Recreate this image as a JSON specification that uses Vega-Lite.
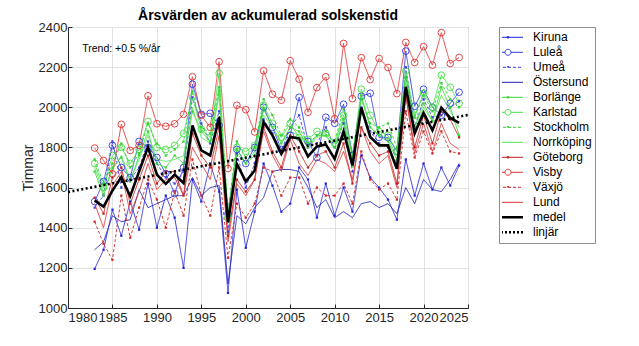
{
  "$schema": "https://vega.github.io/schema/vega-lite/v6.json",
  "width": 400,
  "height": 281,
  "padding": {"left": 21, "top": 9, "right": 5, "bottom": 5},
  "title": {"text": "Årsvärden av ackumulerad solskenstid", "font": "Liberation Sans", "fontSize": 14, "fontWeight": "bold", "color": "#000000", "anchor": "middle", "offset": -2},
  "config": {
    "view": {"stroke": "#262626", "strokeWidth": 1},
    "axis": {"labelFont": "Liberation Sans", "labelFontSize": 13, "labelColor": "#262626", "titleFont": "Liberation Sans", "titleFontSize": 14, "titleFontWeight": "normal", "titleColor": "#262626", "domainColor": "#262626", "tickColor": "#262626", "gridColor": "#e3e3e3", "tickSize": -4},
    "axisX": {"labelPadding": 7},
    "axisY": {"labelPadding": 5}
  },
  "data": {"values": [
{"station":"Kiruna","year":1983,"hours":1195},{"station":"Kiruna","year":1984,"hours":1290},{"station":"Kiruna","year":1985,"hours":1490},{"station":"Kiruna","year":1986,"hours":1360},{"station":"Kiruna","year":1987,"hours":1530},{"station":"Kiruna","year":1988,"hours":1390},{"station":"Kiruna","year":1989,"hours":1620},{"station":"Kiruna","year":1990,"hours":1400},{"station":"Kiruna","year":1991,"hours":1560},{"station":"Kiruna","year":1992,"hours":1450},{"station":"Kiruna","year":1993,"hours":1200},{"station":"Kiruna","year":1994,"hours":1640},{"station":"Kiruna","year":1995,"hours":1530},{"station":"Kiruna","year":1996,"hours":1720},{"station":"Kiruna","year":1997,"hours":1580},{"station":"Kiruna","year":1998,"hours":1075},{"station":"Kiruna","year":1999,"hours":1590},{"station":"Kiruna","year":2000,"hours":1300},{"station":"Kiruna","year":2001,"hours":1480},{"station":"Kiruna","year":2002,"hours":1720},{"station":"Kiruna","year":2003,"hours":1610},{"station":"Kiruna","year":2004,"hours":1480},{"station":"Kiruna","year":2005,"hours":1520},{"station":"Kiruna","year":2006,"hours":1700},{"station":"Kiruna","year":2007,"hours":1640},{"station":"Kiruna","year":2008,"hours":1450},{"station":"Kiruna","year":2009,"hours":1620},{"station":"Kiruna","year":2010,"hours":1460},{"station":"Kiruna","year":2011,"hours":1600},{"station":"Kiruna","year":2012,"hours":1480},{"station":"Kiruna","year":2013,"hours":1760},{"station":"Kiruna","year":2014,"hours":1650},{"station":"Kiruna","year":2015,"hours":1600},{"station":"Kiruna","year":2016,"hours":1540},{"station":"Kiruna","year":2017,"hours":1440},{"station":"Kiruna","year":2018,"hours":1740},{"station":"Kiruna","year":2019,"hours":1560},{"station":"Kiruna","year":2020,"hours":1720},{"station":"Kiruna","year":2021,"hours":1590},{"station":"Kiruna","year":2022,"hours":1700},{"station":"Kiruna","year":2023,"hours":1610},{"station":"Kiruna","year":2024,"hours":1710},
{"station":"Luleå","year":1983,"hours":1530},{"station":"Luleå","year":1984,"hours":1630},{"station":"Luleå","year":1985,"hours":1810},{"station":"Luleå","year":1986,"hours":1700},{"station":"Luleå","year":1987,"hours":1650},{"station":"Luleå","year":1988,"hours":1830},{"station":"Luleå","year":1989,"hours":1800},{"station":"Luleå","year":1990,"hours":1750},{"station":"Luleå","year":1991,"hours":1670},{"station":"Luleå","year":1992,"hours":1570},{"station":"Luleå","year":1993,"hours":1700},{"station":"Luleå","year":1994,"hours":2115},{"station":"Luleå","year":1995,"hours":1965},{"station":"Luleå","year":1996,"hours":1970},{"station":"Luleå","year":1997,"hours":1910},{"station":"Luleå","year":1998,"hours":1470},{"station":"Luleå","year":1999,"hours":1790},{"station":"Luleå","year":2000,"hours":1720},{"station":"Luleå","year":2001,"hours":1800},{"station":"Luleå","year":2002,"hours":2000},{"station":"Luleå","year":2003,"hours":1900},{"station":"Luleå","year":2004,"hours":1790},{"station":"Luleå","year":2005,"hours":1860},{"station":"Luleå","year":2006,"hours":2050},{"station":"Luleå","year":2007,"hours":1830},{"station":"Luleå","year":2008,"hours":1750},{"station":"Luleå","year":2009,"hours":1950},{"station":"Luleå","year":2010,"hours":1920},{"station":"Luleå","year":2011,"hours":2015},{"station":"Luleå","year":2012,"hours":1760},{"station":"Luleå","year":2013,"hours":2055},{"station":"Luleå","year":2014,"hours":2070},{"station":"Luleå","year":2015,"hours":1850},{"station":"Luleå","year":2016,"hours":1850},{"station":"Luleå","year":2017,"hours":1780},{"station":"Luleå","year":2018,"hours":2280},{"station":"Luleå","year":2019,"hours":2005},{"station":"Luleå","year":2020,"hours":2090},{"station":"Luleå","year":2021,"hours":2000},{"station":"Luleå","year":2022,"hours":1960},{"station":"Luleå","year":2023,"hours":2020},{"station":"Luleå","year":2024,"hours":2075},
{"station":"Umeå","year":1983,"hours":1500},{"station":"Umeå","year":1984,"hours":1560},{"station":"Umeå","year":1985,"hours":1830},{"station":"Umeå","year":1986,"hours":1600},{"station":"Umeå","year":1987,"hours":1640},{"station":"Umeå","year":1988,"hours":1700},{"station":"Umeå","year":1989,"hours":1830},{"station":"Umeå","year":1990,"hours":1720},{"station":"Umeå","year":1991,"hours":1650},{"station":"Umeå","year":1992,"hours":1620},{"station":"Umeå","year":1993,"hours":1680},{"station":"Umeå","year":1994,"hours":2050},{"station":"Umeå","year":1995,"hours":1920},{"station":"Umeå","year":1996,"hours":1820},{"station":"Umeå","year":1997,"hours":1980},{"station":"Umeå","year":1998,"hours":1380},{"station":"Umeå","year":1999,"hours":1770},{"station":"Umeå","year":2000,"hours":1600},{"station":"Umeå","year":2001,"hours":1720},{"station":"Umeå","year":2002,"hours":1940},{"station":"Umeå","year":2003,"hours":1870},{"station":"Umeå","year":2004,"hours":1780},{"station":"Umeå","year":2005,"hours":1900},{"station":"Umeå","year":2006,"hours":1960},{"station":"Umeå","year":2007,"hours":1800},{"station":"Umeå","year":2008,"hours":1820},{"station":"Umeå","year":2009,"hours":1900},{"station":"Umeå","year":2010,"hours":1800},{"station":"Umeå","year":2011,"hours":1920},{"station":"Umeå","year":2012,"hours":1680},{"station":"Umeå","year":2013,"hours":2000},{"station":"Umeå","year":2014,"hours":1880},{"station":"Umeå","year":2015,"hours":1820},{"station":"Umeå","year":2016,"hours":1800},{"station":"Umeå","year":2017,"hours":1720},{"station":"Umeå","year":2018,"hours":2200},{"station":"Umeå","year":2019,"hours":1900},{"station":"Umeå","year":2020,"hours":2040},{"station":"Umeå","year":2021,"hours":1950},{"station":"Umeå","year":2022,"hours":1960},{"station":"Umeå","year":2023,"hours":2000},{"station":"Umeå","year":2024,"hours":2030},
{"station":"Östersund","year":1983,"hours":1290},{"station":"Östersund","year":1984,"hours":1330},{"station":"Östersund","year":1985,"hours":1460},{"station":"Östersund","year":1986,"hours":1430},{"station":"Östersund","year":1987,"hours":1440},{"station":"Östersund","year":1988,"hours":1590},{"station":"Östersund","year":1989,"hours":1500},{"station":"Östersund","year":1990,"hours":1520},{"station":"Östersund","year":1991,"hours":1540},{"station":"Östersund","year":1992,"hours":1560},{"station":"Östersund","year":1993,"hours":1560},{"station":"Östersund","year":1994,"hours":1650},{"station":"Östersund","year":1995,"hours":1560},{"station":"Östersund","year":1996,"hours":1600},{"station":"Östersund","year":1997,"hours":1610},{"station":"Östersund","year":1998,"hours":1120},{"station":"Östersund","year":1999,"hours":1460},{"station":"Östersund","year":2000,"hours":1420},{"station":"Östersund","year":2001,"hours":1500},{"station":"Östersund","year":2002,"hours":1550},{"station":"Östersund","year":2003,"hours":1680},{"station":"Östersund","year":2004,"hours":1690},{"station":"Östersund","year":2005,"hours":1690},{"station":"Östersund","year":2006,"hours":1680},{"station":"Östersund","year":2007,"hours":1600},{"station":"Östersund","year":2008,"hours":1500},{"station":"Östersund","year":2009,"hours":1540},{"station":"Östersund","year":2010,"hours":1450},{"station":"Östersund","year":2011,"hours":1480},{"station":"Östersund","year":2012,"hours":1450},{"station":"Östersund","year":2013,"hours":1520},{"station":"Östersund","year":2014,"hours":1530},{"station":"Östersund","year":2015,"hours":1500},{"station":"Östersund","year":2016,"hours":1520},{"station":"Östersund","year":2017,"hours":1470},{"station":"Östersund","year":2018,"hours":1600},{"station":"Östersund","year":2019,"hours":1520},{"station":"Östersund","year":2020,"hours":1640},{"station":"Östersund","year":2021,"hours":1590},{"station":"Östersund","year":2022,"hours":1580},{"station":"Östersund","year":2023,"hours":1640},{"station":"Östersund","year":2024,"hours":1720},
{"station":"Borlänge","year":1983,"hours":1680},{"station":"Borlänge","year":1984,"hours":1560},{"station":"Borlänge","year":1985,"hours":1700},{"station":"Borlänge","year":1986,"hours":1750},{"station":"Borlänge","year":1987,"hours":1630},{"station":"Borlänge","year":1988,"hours":1760},{"station":"Borlänge","year":1989,"hours":1880},{"station":"Borlänge","year":1990,"hours":1720},{"station":"Borlänge","year":1991,"hours":1700},{"station":"Borlänge","year":1992,"hours":1760},{"station":"Borlänge","year":1993,"hours":1720},{"station":"Borlänge","year":1994,"hours":1980},{"station":"Borlänge","year":1995,"hours":1880},{"station":"Borlänge","year":1996,"hours":1830},{"station":"Borlänge","year":1997,"hours":2080},{"station":"Borlänge","year":1998,"hours":1430},{"station":"Borlänge","year":1999,"hours":1790},{"station":"Borlänge","year":2000,"hours":1720},{"station":"Borlänge","year":2001,"hours":1760},{"station":"Borlänge","year":2002,"hours":1990},{"station":"Borlänge","year":2003,"hours":1900},{"station":"Borlänge","year":2004,"hours":1820},{"station":"Borlänge","year":2005,"hours":1900},{"station":"Borlänge","year":2006,"hours":1880},{"station":"Borlänge","year":2007,"hours":1800},{"station":"Borlänge","year":2008,"hours":1860},{"station":"Borlänge","year":2009,"hours":1860},{"station":"Borlänge","year":2010,"hours":1800},{"station":"Borlänge","year":2011,"hours":1940},{"station":"Borlänge","year":2012,"hours":1720},{"station":"Borlänge","year":2013,"hours":2060},{"station":"Borlänge","year":2014,"hours":1900},{"station":"Borlänge","year":2015,"hours":1860},{"station":"Borlänge","year":2016,"hours":1830},{"station":"Borlänge","year":2017,"hours":1740},{"station":"Borlänge","year":2018,"hours":2150},{"station":"Borlänge","year":2019,"hours":1900},{"station":"Borlänge","year":2020,"hours":2020},{"station":"Borlänge","year":2021,"hours":1930},{"station":"Borlänge","year":2022,"hours":2100},{"station":"Borlänge","year":2023,"hours":2000},{"station":"Borlänge","year":2024,"hours":1860},
{"station":"Karlstad","year":1983,"hours":1720},{"station":"Karlstad","year":1984,"hours":1600},{"station":"Karlstad","year":1985,"hours":1760},{"station":"Karlstad","year":1986,"hours":1800},{"station":"Karlstad","year":1987,"hours":1720},{"station":"Karlstad","year":1988,"hours":1790},{"station":"Karlstad","year":1989,"hours":1930},{"station":"Karlstad","year":1990,"hours":1800},{"station":"Karlstad","year":1991,"hours":1790},{"station":"Karlstad","year":1992,"hours":1810},{"station":"Karlstad","year":1993,"hours":1870},{"station":"Karlstad","year":1994,"hours":2050},{"station":"Karlstad","year":1995,"hours":1890},{"station":"Karlstad","year":1996,"hours":1850},{"station":"Karlstad","year":1997,"hours":2170},{"station":"Karlstad","year":1998,"hours":1450},{"station":"Karlstad","year":1999,"hours":1800},{"station":"Karlstad","year":2000,"hours":1780},{"station":"Karlstad","year":2001,"hours":1810},{"station":"Karlstad","year":2002,"hours":2010},{"station":"Karlstad","year":2003,"hours":1920},{"station":"Karlstad","year":2004,"hours":1850},{"station":"Karlstad","year":2005,"hours":1920},{"station":"Karlstad","year":2006,"hours":1850},{"station":"Karlstad","year":2007,"hours":1840},{"station":"Karlstad","year":2008,"hours":1880},{"station":"Karlstad","year":2009,"hours":1870},{"station":"Karlstad","year":2010,"hours":1820},{"station":"Karlstad","year":2011,"hours":1960},{"station":"Karlstad","year":2012,"hours":1750},{"station":"Karlstad","year":2013,"hours":2090},{"station":"Karlstad","year":2014,"hours":1960},{"station":"Karlstad","year":2015,"hours":1880},{"station":"Karlstad","year":2016,"hours":1860},{"station":"Karlstad","year":2017,"hours":1780},{"station":"Karlstad","year":2018,"hours":2180},{"station":"Karlstad","year":2019,"hours":1960},{"station":"Karlstad","year":2020,"hours":2070},{"station":"Karlstad","year":2021,"hours":2000},{"station":"Karlstad","year":2022,"hours":2160},{"station":"Karlstad","year":2023,"hours":2100},{"station":"Karlstad","year":2024,"hours":2020},
{"station":"Stockholm","year":1983,"hours":1740},{"station":"Stockholm","year":1984,"hours":1620},{"station":"Stockholm","year":1985,"hours":1720},{"station":"Stockholm","year":1986,"hours":1820},{"station":"Stockholm","year":1987,"hours":1700},{"station":"Stockholm","year":1988,"hours":1770},{"station":"Stockholm","year":1989,"hours":1920},{"station":"Stockholm","year":1990,"hours":1820},{"station":"Stockholm","year":1991,"hours":1760},{"station":"Stockholm","year":1992,"hours":1790},{"station":"Stockholm","year":1993,"hours":1830},{"station":"Stockholm","year":1994,"hours":2080},{"station":"Stockholm","year":1995,"hours":1900},{"station":"Stockholm","year":1996,"hours":1870},{"station":"Stockholm","year":1997,"hours":2100},{"station":"Stockholm","year":1998,"hours":1480},{"station":"Stockholm","year":1999,"hours":1830},{"station":"Stockholm","year":2000,"hours":1750},{"station":"Stockholm","year":2001,"hours":1800},{"station":"Stockholm","year":2002,"hours":2040},{"station":"Stockholm","year":2003,"hours":1960},{"station":"Stockholm","year":2004,"hours":1860},{"station":"Stockholm","year":2005,"hours":1940},{"station":"Stockholm","year":2006,"hours":1900},{"station":"Stockholm","year":2007,"hours":1820},{"station":"Stockholm","year":2008,"hours":1860},{"station":"Stockholm","year":2009,"hours":1880},{"station":"Stockholm","year":2010,"hours":1830},{"station":"Stockholm","year":2011,"hours":1990},{"station":"Stockholm","year":2012,"hours":1760},{"station":"Stockholm","year":2013,"hours":2040},{"station":"Stockholm","year":2014,"hours":1920},{"station":"Stockholm","year":2015,"hours":1900},{"station":"Stockholm","year":2016,"hours":1920},{"station":"Stockholm","year":2017,"hours":1800},{"station":"Stockholm","year":2018,"hours":2150},{"station":"Stockholm","year":2019,"hours":1950},{"station":"Stockholm","year":2020,"hours":2060},{"station":"Stockholm","year":2021,"hours":1980},{"station":"Stockholm","year":2022,"hours":2120},{"station":"Stockholm","year":2023,"hours":2040},{"station":"Stockholm","year":2024,"hours":2000},
{"station":"Norrköping","year":1983,"hours":1700},{"station":"Norrköping","year":1984,"hours":1580},{"station":"Norrköping","year":1985,"hours":1690},{"station":"Norrköping","year":1986,"hours":1760},{"station":"Norrköping","year":1987,"hours":1640},{"station":"Norrköping","year":1988,"hours":1740},{"station":"Norrköping","year":1989,"hours":1860},{"station":"Norrköping","year":1990,"hours":1740},{"station":"Norrköping","year":1991,"hours":1730},{"station":"Norrköping","year":1992,"hours":1740},{"station":"Norrköping","year":1993,"hours":1760},{"station":"Norrköping","year":1994,"hours":2000},{"station":"Norrköping","year":1995,"hours":1850},{"station":"Norrköping","year":1996,"hours":1820},{"station":"Norrköping","year":1997,"hours":2060},{"station":"Norrköping","year":1998,"hours":1460},{"station":"Norrköping","year":1999,"hours":1770},{"station":"Norrköping","year":2000,"hours":1720},{"station":"Norrköping","year":2001,"hours":1780},{"station":"Norrköping","year":2002,"hours":1960},{"station":"Norrköping","year":2003,"hours":1900},{"station":"Norrköping","year":2004,"hours":1830},{"station":"Norrköping","year":2005,"hours":1880},{"station":"Norrköping","year":2006,"hours":1860},{"station":"Norrköping","year":2007,"hours":1800},{"station":"Norrköping","year":2008,"hours":1850},{"station":"Norrköping","year":2009,"hours":1860},{"station":"Norrköping","year":2010,"hours":1800},{"station":"Norrköping","year":2011,"hours":1930},{"station":"Norrköping","year":2012,"hours":1700},{"station":"Norrköping","year":2013,"hours":2050},{"station":"Norrköping","year":2014,"hours":1900},{"station":"Norrköping","year":2015,"hours":1860},{"station":"Norrköping","year":2016,"hours":1840},{"station":"Norrköping","year":2017,"hours":1760},{"station":"Norrköping","year":2018,"hours":2120},{"station":"Norrköping","year":2019,"hours":1880},{"station":"Norrköping","year":2020,"hours":2000},{"station":"Norrköping","year":2021,"hours":1930},{"station":"Norrköping","year":2022,"hours":2060},{"station":"Norrköping","year":2023,"hours":1980},{"station":"Norrköping","year":2024,"hours":1900},
{"station":"Göteborg","year":1983,"hours":1550},{"station":"Göteborg","year":1984,"hours":1470},{"station":"Göteborg","year":1985,"hours":1650},{"station":"Göteborg","year":1986,"hours":1700},{"station":"Göteborg","year":1987,"hours":1520},{"station":"Göteborg","year":1988,"hours":1640},{"station":"Göteborg","year":1989,"hours":1760},{"station":"Göteborg","year":1990,"hours":1620},{"station":"Göteborg","year":1991,"hours":1680},{"station":"Göteborg","year":1992,"hours":1680},{"station":"Göteborg","year":1993,"hours":1560},{"station":"Göteborg","year":1994,"hours":1870},{"station":"Göteborg","year":1995,"hours":1760},{"station":"Göteborg","year":1996,"hours":1700},{"station":"Göteborg","year":1997,"hours":1900},{"station":"Göteborg","year":1998,"hours":1360},{"station":"Göteborg","year":1999,"hours":1640},{"station":"Göteborg","year":2000,"hours":1580},{"station":"Göteborg","year":2001,"hours":1640},{"station":"Göteborg","year":2002,"hours":1900},{"station":"Göteborg","year":2003,"hours":1780},{"station":"Göteborg","year":2004,"hours":1700},{"station":"Göteborg","year":2005,"hours":1860},{"station":"Göteborg","year":2006,"hours":1780},{"station":"Göteborg","year":2007,"hours":1700},{"station":"Göteborg","year":2008,"hours":1760},{"station":"Göteborg","year":2009,"hours":1780},{"station":"Göteborg","year":2010,"hours":1700},{"station":"Göteborg","year":2011,"hours":1820},{"station":"Göteborg","year":2012,"hours":1620},{"station":"Göteborg","year":2013,"hours":1900},{"station":"Göteborg","year":2014,"hours":1820},{"station":"Göteborg","year":2015,"hours":1760},{"station":"Göteborg","year":2016,"hours":1780},{"station":"Göteborg","year":2017,"hours":1620},{"station":"Göteborg","year":2018,"hours":2060},{"station":"Göteborg","year":2019,"hours":1800},{"station":"Göteborg","year":2020,"hours":1960},{"station":"Göteborg","year":2021,"hours":1820},{"station":"Göteborg","year":2022,"hours":1980},{"station":"Göteborg","year":2023,"hours":1940},{"station":"Göteborg","year":2024,"hours":1850},
{"station":"Visby","year":1983,"hours":1797},{"station":"Visby","year":1984,"hours":1735},{"station":"Visby","year":1985,"hours":1668},{"station":"Visby","year":1986,"hours":1915},{"station":"Visby","year":1987,"hours":1785},{"station":"Visby","year":1988,"hours":1810},{"station":"Visby","year":1989,"hours":2057},{"station":"Visby","year":1990,"hours":1918},{"station":"Visby","year":1991,"hours":1905},{"station":"Visby","year":1992,"hours":1918},{"station":"Visby","year":1993,"hours":1965},{"station":"Visby","year":1994,"hours":2152},{"station":"Visby","year":1995,"hours":1960},{"station":"Visby","year":1996,"hours":1900},{"station":"Visby","year":1997,"hours":2227},{"station":"Visby","year":1998,"hours":1695},{"station":"Visby","year":1999,"hours":2010},{"station":"Visby","year":2000,"hours":1988},{"station":"Visby","year":2001,"hours":1877},{"station":"Visby","year":2002,"hours":2182},{"station":"Visby","year":2003,"hours":2065},{"station":"Visby","year":2004,"hours":2035},{"station":"Visby","year":2005,"hours":2232},{"station":"Visby","year":2006,"hours":2140},{"station":"Visby","year":2007,"hours":1975},{"station":"Visby","year":2008,"hours":2098},{"station":"Visby","year":2009,"hours":2152},{"station":"Visby","year":2010,"hours":1943},{"station":"Visby","year":2011,"hours":2318},{"station":"Visby","year":2012,"hours":2043},{"station":"Visby","year":2013,"hours":2248},{"station":"Visby","year":2014,"hours":2138},{"station":"Visby","year":2015,"hours":2243},{"station":"Visby","year":2016,"hours":2198},{"station":"Visby","year":2017,"hours":2068},{"station":"Visby","year":2018,"hours":2323},{"station":"Visby","year":2019,"hours":2223},{"station":"Visby","year":2020,"hours":2302},{"station":"Visby","year":2021,"hours":2210},{"station":"Visby","year":2022,"hours":2372},{"station":"Visby","year":2023,"hours":2218},{"station":"Visby","year":2024,"hours":2248},
{"station":"Växjö","year":1983,"hours":1430},{"station":"Växjö","year":1984,"hours":1320},{"station":"Växjö","year":1985,"hours":1240},{"station":"Växjö","year":1986,"hours":1560},{"station":"Växjö","year":1987,"hours":1350},{"station":"Växjö","year":1988,"hours":1500},{"station":"Växjö","year":1989,"hours":1640},{"station":"Växjö","year":1990,"hours":1540},{"station":"Växjö","year":1991,"hours":1400},{"station":"Växjö","year":1992,"hours":1580},{"station":"Växjö","year":1993,"hours":1460},{"station":"Växjö","year":1994,"hours":1740},{"station":"Växjö","year":1995,"hours":1560},{"station":"Växjö","year":1996,"hours":1460},{"station":"Växjö","year":1997,"hours":1700},{"station":"Växjö","year":1998,"hours":1250},{"station":"Växjö","year":1999,"hours":1520},{"station":"Växjö","year":2000,"hours":1450},{"station":"Växjö","year":2001,"hours":1520},{"station":"Växjö","year":2002,"hours":1700},{"station":"Växjö","year":2003,"hours":1680},{"station":"Växjö","year":2004,"hours":1560},{"station":"Växjö","year":2005,"hours":1650},{"station":"Växjö","year":2006,"hours":1650},{"station":"Växjö","year":2007,"hours":1520},{"station":"Växjö","year":2008,"hours":1600},{"station":"Växjö","year":2009,"hours":1560},{"station":"Växjö","year":2010,"hours":1560},{"station":"Växjö","year":2011,"hours":1620},{"station":"Växjö","year":2012,"hours":1520},{"station":"Växjö","year":2013,"hours":1780},{"station":"Växjö","year":2014,"hours":1640},{"station":"Växjö","year":2015,"hours":1590},{"station":"Växjö","year":2016,"hours":1620},{"station":"Växjö","year":2017,"hours":1540},{"station":"Växjö","year":2018,"hours":1980},{"station":"Växjö","year":2019,"hours":1750},{"station":"Växjö","year":2020,"hours":1880},{"station":"Växjö","year":2021,"hours":1770},{"station":"Växjö","year":2022,"hours":1880},{"station":"Växjö","year":2023,"hours":1780},{"station":"Växjö","year":2024,"hours":1770},
{"station":"Lund","year":1983,"hours":1520},{"station":"Lund","year":1984,"hours":1400},{"station":"Lund","year":1985,"hours":1610},{"station":"Lund","year":1986,"hours":1680},{"station":"Lund","year":1987,"hours":1470},{"station":"Lund","year":1988,"hours":1580},{"station":"Lund","year":1989,"hours":1720},{"station":"Lund","year":1990,"hours":1590},{"station":"Lund","year":1991,"hours":1640},{"station":"Lund","year":1992,"hours":1650},{"station":"Lund","year":1993,"hours":1560},{"station":"Lund","year":1994,"hours":1800},{"station":"Lund","year":1995,"hours":1720},{"station":"Lund","year":1996,"hours":1640},{"station":"Lund","year":1997,"hours":1860},{"station":"Lund","year":1998,"hours":1330},{"station":"Lund","year":1999,"hours":1620},{"station":"Lund","year":2000,"hours":1560},{"station":"Lund","year":2001,"hours":1640},{"station":"Lund","year":2002,"hours":1880},{"station":"Lund","year":2003,"hours":1760},{"station":"Lund","year":2004,"hours":1680},{"station":"Lund","year":2005,"hours":1840},{"station":"Lund","year":2006,"hours":1720},{"station":"Lund","year":2007,"hours":1660},{"station":"Lund","year":2008,"hours":1740},{"station":"Lund","year":2009,"hours":1720},{"station":"Lund","year":2010,"hours":1680},{"station":"Lund","year":2011,"hours":1780},{"station":"Lund","year":2012,"hours":1640},{"station":"Lund","year":2013,"hours":1900},{"station":"Lund","year":2014,"hours":1780},{"station":"Lund","year":2015,"hours":1720},{"station":"Lund","year":2016,"hours":1760},{"station":"Lund","year":2017,"hours":1600},{"station":"Lund","year":2018,"hours":2060},{"station":"Lund","year":2019,"hours":1770},{"station":"Lund","year":2020,"hours":1920},{"station":"Lund","year":2021,"hours":1780},{"station":"Lund","year":2022,"hours":1920},{"station":"Lund","year":2023,"hours":1820},{"station":"Lund","year":2024,"hours":1790},
{"station":"medel","year":1983,"hours":1535},{"station":"medel","year":1984,"hours":1505},{"station":"medel","year":1985,"hours":1585},{"station":"medel","year":1986,"hours":1652},{"station":"medel","year":1987,"hours":1557},{"station":"medel","year":1988,"hours":1680},{"station":"medel","year":1989,"hours":1802},{"station":"medel","year":1990,"hours":1665},{"station":"medel","year":1991,"hours":1618},{"station":"medel","year":1992,"hours":1665},{"station":"medel","year":1993,"hours":1622},{"station":"medel","year":1994,"hours":1910},{"station":"medel","year":1995,"hours":1785},{"station":"medel","year":1996,"hours":1760},{"station":"medel","year":1997,"hours":1952},{"station":"medel","year":1998,"hours":1427},{"station":"medel","year":1999,"hours":1718},{"station":"medel","year":2000,"hours":1630},{"station":"medel","year":2001,"hours":1685},{"station":"medel","year":2002,"hours":1927},{"station":"medel","year":2003,"hours":1860},{"station":"medel","year":2004,"hours":1768},{"station":"medel","year":2005,"hours":1852},{"station":"medel","year":2006,"hours":1845},{"station":"medel","year":2007,"hours":1755},{"station":"medel","year":2008,"hours":1805},{"station":"medel","year":2009,"hours":1815},{"station":"medel","year":2010,"hours":1743},{"station":"medel","year":2011,"hours":1880},{"station":"medel","year":2012,"hours":1710},{"station":"medel","year":2013,"hours":1998},{"station":"medel","year":2014,"hours":1852},{"station":"medel","year":2015,"hours":1810},{"station":"medel","year":2016,"hours":1810},{"station":"medel","year":2017,"hours":1693},{"station":"medel","year":2018,"hours":2102},{"station":"medel","year":2019,"hours":1870},{"station":"medel","year":2020,"hours":1972},{"station":"medel","year":2021,"hours":1885},{"station":"medel","year":2022,"hours":1998},{"station":"medel","year":2023,"hours":1947},{"station":"medel","year":2024,"hours":1922},
{"station":"linjär","year":1980,"hours":1578},{"station":"linjär","year":2025,"hours":1962}
  ]},
  "layer": [
    {
      "transform": [{"filter": "datum.station != 'medel' && datum.station != 'linjär'"}],
      "mark": {"type": "line", "strokeWidth": 0.9},
      "encoding": {
        "x": {"field": "year", "type": "quantitative", "scale": {"domain": [1980, 2025], "nice": false, "zero": false}, "axis": {"values": [1980,1985,1990,1995,2000,2005,2010,2015,2020,2025], "format": "d", "title": null, "grid": true}},
        "y": {"field": "hours", "type": "quantitative", "scale": {"domain": [1000, 2400], "nice": false, "zero": false}, "axis": {"values": [1000,1200,1400,1600,1800,2000,2200,2400], "format": "d", "title": "Timmar", "titlePadding": 3, "grid": true}},
        "color": {"field": "station", "type": "nominal",
          "scale": {"domain": ["Kiruna","Luleå","Umeå","Östersund","Borlänge","Karlstad","Stockholm","Norrköping","Göteborg","Visby","Växjö","Lund","medel","linjär"],
                    "range": ["#2424d8","#2e3ce6","#3f3fe8","#2020b8","#35d635","#45df45","#30d030","#52e352","#c02020","#e03232","#d02828","#dc3030","#000000","#000000"]},
          "legend": {"title": null, "orient": "right", "offset": 25, "padding": 3, "strokeColor": "#8c8c8c", "fillColor": "#ffffff", "labelFont": "Liberation Sans", "labelFontSize": 12, "labelColor": "#000000", "labelOffset": 19, "clipHeight": 14.6, "rowPadding": 0, "symbolSize": 900, "symbolType": "stroke", "symbolFillColor": "transparent",
            "encode": {"symbols": {"update": {
              "shape": {"signal": "indexof(['Luleå','Karlstad','Visby'], datum.value) >= 0 ? 'M-1,0L-0.2,0M0.2,0L1,0M-0.2,0A0.2,0.2,0,1,1,0.2,0A0.2,0.2,0,1,1,-0.2,0' : (indexof(['Kiruna','Umeå','Borlänge','Stockholm','Göteborg','Växjö'], datum.value) >= 0 ? 'M-1,0L1,0M-0.05,-0.05L0.05,-0.05L0.05,0.05L-0.05,0.05Z' : 'M-1,0L1,0')"},
              "strokeDash": {"signal": "indexof(['Umeå','Stockholm','Växjö'], datum.value) >= 0 ? [3,2] : (datum.value == 'linjär' ? [2,2] : [1,0])"},
              "strokeWidth": {"signal": "datum.value == 'medel' || datum.value == 'linjär' ? 2.5 : 1"},
              "fill": {"value": "transparent"},
              "fillOpacity": {"value": 0}
            }}}
          }},
        "strokeDash": {"field": "station", "type": "nominal", "legend": null,
          "scale": {"domain": ["Kiruna","Luleå","Umeå","Östersund","Borlänge","Karlstad","Stockholm","Norrköping","Göteborg","Visby","Växjö","Lund","medel","linjär"],
                    "range": [[1,0],[1,0],[3,2],[1,0],[1,0],[1,0],[3,2],[1,0],[1,0],[1,0],[3,2],[1,0],[1,0],[2,2]]}}
      }
    },
    {
      "transform": [{"filter": "indexof(['Luleå','Karlstad','Visby'], datum.station) >= 0"}],
      "mark": {"type": "point", "shape": "circle", "filled": false, "size": 45, "strokeWidth": 0.9, "opacity": 1},
      "encoding": {
        "x": {"field": "year", "type": "quantitative"},
        "y": {"field": "hours", "type": "quantitative"},
        "color": {"field": "station", "type": "nominal"}
      }
    },
    {
      "transform": [{"filter": "indexof(['Kiruna','Umeå','Borlänge','Stockholm','Göteborg','Växjö'], datum.station) >= 0"}],
      "mark": {"type": "square", "size": 5, "opacity": 1},
      "encoding": {
        "x": {"field": "year", "type": "quantitative"},
        "y": {"field": "hours", "type": "quantitative"},
        "color": {"field": "station", "type": "nominal"}
      }
    },
    {
      "transform": [{"filter": "datum.station == 'medel'"}],
      "mark": {"type": "line", "strokeWidth": 2.6},
      "encoding": {
        "x": {"field": "year", "type": "quantitative"},
        "y": {"field": "hours", "type": "quantitative"},
        "color": {"field": "station", "type": "nominal"}
      }
    },
    {
      "transform": [{"filter": "datum.station == 'linjär'"}],
      "mark": {"type": "line", "strokeWidth": 2.6, "strokeDash": [2, 2.5]},
      "encoding": {
        "x": {"field": "year", "type": "quantitative"},
        "y": {"field": "hours", "type": "quantitative"},
        "color": {"field": "station", "type": "nominal"}
      }
    },
    {
      "data": {"values": [{"year": 1981.6, "hours": 2290}]},
      "mark": {"type": "text", "align": "left", "baseline": "middle", "font": "Liberation Sans", "fontSize": 10.5, "color": "#000000"},
      "encoding": {
        "x": {"field": "year", "type": "quantitative"},
        "y": {"field": "hours", "type": "quantitative"},
        "text": {"value": "Trend: +0.5 %/år"}
      }
    }
  ]
}
